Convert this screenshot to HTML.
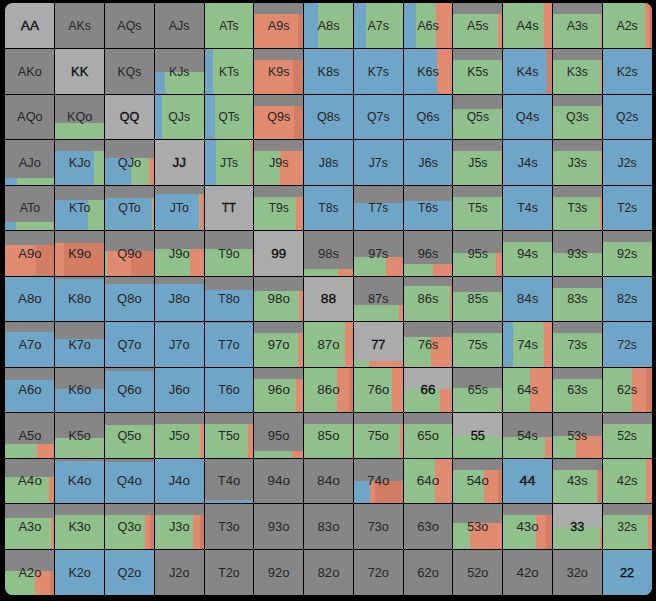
<!DOCTYPE html>
<html><head><meta charset="utf-8"><title>Range</title>
<style>
html,body{margin:0;padding:0;background:#000;}
body{width:656px;height:601px;overflow:hidden;}
svg{display:block;}
text{font-family:"Liberation Sans",sans-serif;font-size:12.3px;text-anchor:middle;fill:#262626;}
text.p{fill:#0c0c0c;stroke:#0c0c0c;stroke-width:0.3px;font-size:12px;}
</style></head><body>
<svg width="656" height="601" viewBox="0 0 656 601">
<defs><clipPath id="cp"><rect x="5" y="3" width="647" height="592" rx="7.5" ry="7.5"/></clipPath></defs>
<rect x="0" y="0" width="656" height="601" fill="#000"/>
<g clip-path="url(#cp)" shape-rendering="crispEdges">
<rect x="5" y="3" width="49.77" height="45.54" fill="#ababab"/>
<rect x="54.77" y="3" width="49.77" height="45.54" fill="#868686"/>
<rect x="104.54" y="3" width="49.77" height="45.54" fill="#868686"/>
<rect x="154.31" y="3" width="49.77" height="45.54" fill="#868686"/>
<rect x="204.08" y="3" width="49.77" height="45.54" fill="#868686"/>
<rect x="204.08" y="3" width="49.77" height="45.54" fill="#90c08b"/>
<rect x="253.85" y="3" width="49.77" height="45.54" fill="#868686"/>
<rect x="253.85" y="13.75" width="43.65" height="34.79" fill="#e08b70"/>
<rect x="297.5" y="13.75" width="6.12" height="34.79" fill="#d27c63"/>
<rect x="303.62" y="3" width="49.77" height="45.54" fill="#868686"/>
<rect x="303.62" y="3" width="14.38" height="45.54" fill="#6fa5c7"/>
<rect x="318" y="3" width="35.38" height="45.54" fill="#90c08b"/>
<rect x="353.38" y="3" width="49.77" height="45.54" fill="#868686"/>
<rect x="353.38" y="3" width="12.62" height="45.54" fill="#6fa5c7"/>
<rect x="366" y="3" width="37.15" height="45.54" fill="#90c08b"/>
<rect x="403.15" y="3" width="49.77" height="45.54" fill="#868686"/>
<rect x="403.15" y="3" width="12.85" height="45.54" fill="#6fa5c7"/>
<rect x="416" y="3" width="20.25" height="45.54" fill="#90c08b"/>
<rect x="436.25" y="3" width="16.67" height="45.54" fill="#e08b70"/>
<rect x="452.92" y="3" width="49.77" height="45.54" fill="#868686"/>
<rect x="452.92" y="13.75" width="45.08" height="34.79" fill="#90c08b"/>
<rect x="498" y="13.75" width="4.69" height="34.79" fill="#e08b70"/>
<rect x="502.69" y="3" width="49.77" height="45.54" fill="#868686"/>
<rect x="502.69" y="3" width="41.31" height="45.54" fill="#90c08b"/>
<rect x="544" y="3" width="8.46" height="45.54" fill="#e08b70"/>
<rect x="552.46" y="3" width="49.77" height="45.54" fill="#868686"/>
<rect x="552.46" y="13.75" width="48.54" height="34.79" fill="#90c08b"/>
<rect x="601" y="13.75" width="1.23" height="34.79" fill="#e08b70"/>
<rect x="602.23" y="3" width="49.77" height="45.54" fill="#868686"/>
<rect x="602.23" y="3" width="42.77" height="45.54" fill="#90c08b"/>
<rect x="645" y="3" width="4" height="45.54" fill="#e08b70"/>
<rect x="649" y="3" width="3" height="45.54" fill="#d27c63"/>
<rect x="5" y="48.54" width="49.77" height="45.54" fill="#868686"/>
<rect x="54.77" y="48.54" width="49.77" height="45.54" fill="#ababab"/>
<rect x="104.54" y="48.54" width="49.77" height="45.54" fill="#868686"/>
<rect x="154.31" y="48.54" width="49.77" height="45.54" fill="#868686"/>
<rect x="154.31" y="72" width="10.69" height="22.08" fill="#6fa5c7"/>
<rect x="165" y="72" width="39.08" height="22.08" fill="#90c08b"/>
<rect x="204.08" y="48.54" width="49.77" height="45.54" fill="#868686"/>
<rect x="204.08" y="48.54" width="8.92" height="45.54" fill="#6fa5c7"/>
<rect x="213" y="48.54" width="40.85" height="45.54" fill="#90c08b"/>
<rect x="253.85" y="48.54" width="49.77" height="45.54" fill="#868686"/>
<rect x="253.85" y="60" width="39.15" height="34.08" fill="#e08b70"/>
<rect x="293" y="60" width="10.62" height="34.08" fill="#d27c63"/>
<rect x="303.62" y="48.54" width="49.77" height="45.54" fill="#868686"/>
<rect x="303.62" y="48.54" width="49.77" height="45.54" fill="#6fa5c7"/>
<rect x="353.38" y="48.54" width="49.77" height="45.54" fill="#868686"/>
<rect x="353.38" y="48.54" width="49.77" height="45.54" fill="#6fa5c7"/>
<rect x="403.15" y="48.54" width="49.77" height="45.54" fill="#868686"/>
<rect x="403.15" y="48.54" width="33.85" height="45.54" fill="#6fa5c7"/>
<rect x="437" y="48.54" width="15.92" height="45.54" fill="#e08b70"/>
<rect x="452.92" y="48.54" width="49.77" height="45.54" fill="#868686"/>
<rect x="452.92" y="60" width="49.77" height="34.08" fill="#90c08b"/>
<rect x="502.69" y="48.54" width="49.77" height="45.54" fill="#868686"/>
<rect x="502.69" y="48.54" width="44.31" height="45.54" fill="#6fa5c7"/>
<rect x="547" y="48.54" width="5.46" height="45.54" fill="#d27c63"/>
<rect x="552.46" y="48.54" width="49.77" height="45.54" fill="#868686"/>
<rect x="552.46" y="60" width="48.54" height="34.08" fill="#90c08b"/>
<rect x="601" y="60" width="1.23" height="34.08" fill="#e08b70"/>
<rect x="602.23" y="48.54" width="49.77" height="45.54" fill="#868686"/>
<rect x="602.23" y="48.54" width="49.77" height="45.54" fill="#6fa5c7"/>
<rect x="5" y="94.08" width="49.77" height="45.54" fill="#868686"/>
<rect x="54.77" y="94.08" width="49.77" height="45.54" fill="#868686"/>
<rect x="54.77" y="122.5" width="49.77" height="17.12" fill="#90c08b"/>
<rect x="104.54" y="94.08" width="49.77" height="45.54" fill="#ababab"/>
<rect x="154.31" y="94.08" width="49.77" height="45.54" fill="#868686"/>
<rect x="154.31" y="94.08" width="7.44" height="45.54" fill="#6fa5c7"/>
<rect x="161.75" y="94.08" width="42.33" height="45.54" fill="#90c08b"/>
<rect x="204.08" y="94.08" width="49.77" height="45.54" fill="#868686"/>
<rect x="204.08" y="94.08" width="10.92" height="45.54" fill="#6fa5c7"/>
<rect x="215" y="94.08" width="38.85" height="45.54" fill="#90c08b"/>
<rect x="253.85" y="94.08" width="49.77" height="45.54" fill="#868686"/>
<rect x="253.85" y="105.5" width="39.9" height="34.12" fill="#e08b70"/>
<rect x="293.75" y="105.5" width="9.87" height="34.12" fill="#d27c63"/>
<rect x="303.62" y="94.08" width="49.77" height="45.54" fill="#868686"/>
<rect x="303.62" y="94.08" width="49.77" height="45.54" fill="#6fa5c7"/>
<rect x="353.38" y="94.08" width="49.77" height="45.54" fill="#868686"/>
<rect x="353.38" y="94.08" width="49.77" height="45.54" fill="#6fa5c7"/>
<rect x="403.15" y="94.08" width="49.77" height="45.54" fill="#868686"/>
<rect x="403.15" y="94.08" width="49.77" height="45.54" fill="#6fa5c7"/>
<rect x="452.92" y="94.08" width="49.77" height="45.54" fill="#868686"/>
<rect x="452.92" y="108.75" width="49.77" height="30.87" fill="#90c08b"/>
<rect x="502.69" y="94.08" width="49.77" height="45.54" fill="#868686"/>
<rect x="502.69" y="94.08" width="49.77" height="45.54" fill="#6fa5c7"/>
<rect x="552.46" y="94.08" width="49.77" height="45.54" fill="#868686"/>
<rect x="552.46" y="105.5" width="48.54" height="34.12" fill="#90c08b"/>
<rect x="601" y="105.5" width="1.23" height="34.12" fill="#e08b70"/>
<rect x="602.23" y="94.08" width="49.77" height="45.54" fill="#868686"/>
<rect x="602.23" y="94.08" width="49.77" height="45.54" fill="#6fa5c7"/>
<rect x="5" y="139.62" width="49.77" height="45.54" fill="#868686"/>
<rect x="5" y="178" width="12" height="7.15" fill="#6fa5c7"/>
<rect x="17" y="178" width="37.77" height="7.15" fill="#90c08b"/>
<rect x="54.77" y="139.62" width="49.77" height="45.54" fill="#868686"/>
<rect x="54.77" y="151" width="39.23" height="34.15" fill="#6fa5c7"/>
<rect x="94" y="151" width="10.54" height="34.15" fill="#90c08b"/>
<rect x="104.54" y="139.62" width="49.77" height="45.54" fill="#868686"/>
<rect x="104.54" y="158" width="26.21" height="27.15" fill="#6fa5c7"/>
<rect x="130.75" y="158" width="18.25" height="27.15" fill="#90c08b"/>
<rect x="149" y="158" width="5.31" height="27.15" fill="#e08b70"/>
<rect x="154.31" y="139.62" width="49.77" height="45.54" fill="#ababab"/>
<rect x="204.08" y="139.62" width="49.77" height="45.54" fill="#868686"/>
<rect x="204.08" y="139.62" width="11.92" height="45.54" fill="#6fa5c7"/>
<rect x="216" y="139.62" width="35.25" height="45.54" fill="#90c08b"/>
<rect x="251.25" y="139.62" width="2.6" height="45.54" fill="#e08b70"/>
<rect x="253.85" y="139.62" width="49.77" height="45.54" fill="#868686"/>
<rect x="253.85" y="151" width="26.15" height="34.15" fill="#90c08b"/>
<rect x="280" y="151" width="23.62" height="34.15" fill="#e08b70"/>
<rect x="303.62" y="139.62" width="49.77" height="45.54" fill="#868686"/>
<rect x="303.62" y="139.62" width="49.77" height="45.54" fill="#6fa5c7"/>
<rect x="353.38" y="139.62" width="49.77" height="45.54" fill="#868686"/>
<rect x="353.38" y="139.62" width="49.77" height="45.54" fill="#6fa5c7"/>
<rect x="403.15" y="139.62" width="49.77" height="45.54" fill="#868686"/>
<rect x="403.15" y="139.62" width="49.77" height="45.54" fill="#6fa5c7"/>
<rect x="452.92" y="139.62" width="49.77" height="45.54" fill="#868686"/>
<rect x="452.92" y="151" width="48.08" height="34.15" fill="#90c08b"/>
<rect x="501" y="151" width="1.69" height="34.15" fill="#e08b70"/>
<rect x="502.69" y="139.62" width="49.77" height="45.54" fill="#868686"/>
<rect x="502.69" y="139.62" width="49.77" height="45.54" fill="#6fa5c7"/>
<rect x="552.46" y="139.62" width="49.77" height="45.54" fill="#868686"/>
<rect x="552.46" y="151" width="48.74" height="34.15" fill="#90c08b"/>
<rect x="601.2" y="151" width="1.03" height="34.15" fill="#e08b70"/>
<rect x="602.23" y="139.62" width="49.77" height="45.54" fill="#868686"/>
<rect x="602.23" y="139.62" width="49.77" height="45.54" fill="#6fa5c7"/>
<rect x="5" y="185.15" width="49.77" height="45.54" fill="#868686"/>
<rect x="5" y="222.25" width="11" height="8.44" fill="#6fa5c7"/>
<rect x="16" y="222.25" width="36.5" height="8.44" fill="#90c08b"/>
<rect x="52.5" y="222.25" width="2.27" height="8.44" fill="#e08b70"/>
<rect x="54.77" y="185.15" width="49.77" height="45.54" fill="#868686"/>
<rect x="54.77" y="200" width="33.23" height="30.69" fill="#6fa5c7"/>
<rect x="88" y="200" width="16.54" height="30.69" fill="#90c08b"/>
<rect x="104.54" y="185.15" width="49.77" height="45.54" fill="#868686"/>
<rect x="104.54" y="198" width="47.21" height="32.69" fill="#6fa5c7"/>
<rect x="151.75" y="198" width="1" height="32.69" fill="#90c08b"/>
<rect x="152.75" y="198" width="1.56" height="32.69" fill="#e08b70"/>
<rect x="154.31" y="185.15" width="49.77" height="45.54" fill="#868686"/>
<rect x="154.31" y="193.5" width="44.94" height="37.19" fill="#6fa5c7"/>
<rect x="199.25" y="193.5" width="1" height="37.19" fill="#90c08b"/>
<rect x="200.25" y="193.5" width="3.83" height="37.19" fill="#e08b70"/>
<rect x="204.08" y="185.15" width="49.77" height="45.54" fill="#ababab"/>
<rect x="253.85" y="185.15" width="49.77" height="45.54" fill="#868686"/>
<rect x="253.85" y="196.75" width="42.15" height="33.94" fill="#90c08b"/>
<rect x="296" y="196.75" width="7.62" height="33.94" fill="#e08b70"/>
<rect x="303.62" y="185.15" width="49.77" height="45.54" fill="#868686"/>
<rect x="303.62" y="185.15" width="49.77" height="45.54" fill="#6fa5c7"/>
<rect x="353.38" y="185.15" width="49.77" height="45.54" fill="#868686"/>
<rect x="353.38" y="202.5" width="49.77" height="28.19" fill="#6fa5c7"/>
<rect x="403.15" y="185.15" width="49.77" height="45.54" fill="#868686"/>
<rect x="403.15" y="200.5" width="49.77" height="30.19" fill="#6fa5c7"/>
<rect x="452.92" y="185.15" width="49.77" height="45.54" fill="#868686"/>
<rect x="452.92" y="196.75" width="49.77" height="33.94" fill="#90c08b"/>
<rect x="502.69" y="185.15" width="49.77" height="45.54" fill="#868686"/>
<rect x="502.69" y="185.15" width="49.77" height="45.54" fill="#6fa5c7"/>
<rect x="552.46" y="185.15" width="49.77" height="45.54" fill="#868686"/>
<rect x="552.46" y="196.75" width="47.54" height="33.94" fill="#90c08b"/>
<rect x="600" y="196.75" width="2.23" height="33.94" fill="#e08b70"/>
<rect x="602.23" y="185.15" width="49.77" height="45.54" fill="#868686"/>
<rect x="602.23" y="185.15" width="49.77" height="45.54" fill="#6fa5c7"/>
<rect x="5" y="230.69" width="49.77" height="45.54" fill="#868686"/>
<rect x="5" y="244.75" width="31.25" height="31.48" fill="#e08b70"/>
<rect x="36.25" y="244.75" width="18.52" height="31.48" fill="#d27c63"/>
<rect x="54.77" y="230.69" width="49.77" height="45.54" fill="#868686"/>
<rect x="54.77" y="243" width="8.98" height="33.23" fill="#e08b70"/>
<rect x="63.75" y="243" width="40.79" height="33.23" fill="#d27c63"/>
<rect x="104.54" y="230.69" width="49.77" height="45.54" fill="#868686"/>
<rect x="104.54" y="251" width="2.21" height="25.23" fill="#90c08b"/>
<rect x="106.75" y="251" width="24" height="25.23" fill="#e08b70"/>
<rect x="130.75" y="251" width="23.56" height="25.23" fill="#d27c63"/>
<rect x="154.31" y="230.69" width="49.77" height="45.54" fill="#868686"/>
<rect x="154.31" y="249" width="35.69" height="27.23" fill="#90c08b"/>
<rect x="190" y="249" width="14.08" height="27.23" fill="#e08b70"/>
<rect x="204.08" y="230.69" width="49.77" height="45.54" fill="#868686"/>
<rect x="204.08" y="248.5" width="47.67" height="27.73" fill="#90c08b"/>
<rect x="251.75" y="248.5" width="2.1" height="27.73" fill="#e08b70"/>
<rect x="253.85" y="230.69" width="49.77" height="45.54" fill="#ababab"/>
<rect x="303.62" y="230.69" width="49.77" height="45.54" fill="#868686"/>
<rect x="303.62" y="269" width="34.38" height="7.23" fill="#90c08b"/>
<rect x="338" y="269" width="15.38" height="7.23" fill="#e08b70"/>
<rect x="353.38" y="230.69" width="49.77" height="45.54" fill="#868686"/>
<rect x="353.38" y="257.25" width="32.87" height="18.98" fill="#90c08b"/>
<rect x="386.25" y="257.25" width="16.9" height="18.98" fill="#e08b70"/>
<rect x="403.15" y="230.69" width="49.77" height="45.54" fill="#868686"/>
<rect x="403.15" y="264.25" width="29.85" height="11.98" fill="#90c08b"/>
<rect x="433" y="264.25" width="19.92" height="11.98" fill="#e08b70"/>
<rect x="452.92" y="230.69" width="49.77" height="45.54" fill="#868686"/>
<rect x="452.92" y="253" width="43.08" height="23.23" fill="#90c08b"/>
<rect x="496" y="253" width="6.69" height="23.23" fill="#e08b70"/>
<rect x="502.69" y="230.69" width="49.77" height="45.54" fill="#868686"/>
<rect x="502.69" y="242.25" width="49.77" height="33.98" fill="#90c08b"/>
<rect x="552.46" y="230.69" width="49.77" height="45.54" fill="#868686"/>
<rect x="552.46" y="253" width="49.77" height="23.23" fill="#90c08b"/>
<rect x="602.23" y="230.69" width="49.77" height="45.54" fill="#868686"/>
<rect x="602.23" y="242.25" width="49.77" height="33.98" fill="#90c08b"/>
<rect x="5" y="276.23" width="49.77" height="45.54" fill="#868686"/>
<rect x="5" y="276.23" width="49.77" height="45.54" fill="#6fa5c7"/>
<rect x="54.77" y="276.23" width="49.77" height="45.54" fill="#868686"/>
<rect x="54.77" y="278.75" width="49.77" height="43.02" fill="#6fa5c7"/>
<rect x="104.54" y="276.23" width="49.77" height="45.54" fill="#868686"/>
<rect x="104.54" y="283.75" width="49.77" height="38.02" fill="#6fa5c7"/>
<rect x="154.31" y="276.23" width="49.77" height="45.54" fill="#868686"/>
<rect x="154.31" y="283.75" width="49.77" height="38.02" fill="#6fa5c7"/>
<rect x="204.08" y="276.23" width="49.77" height="45.54" fill="#868686"/>
<rect x="204.08" y="290" width="49.77" height="31.77" fill="#6fa5c7"/>
<rect x="253.85" y="276.23" width="49.77" height="45.54" fill="#868686"/>
<rect x="253.85" y="290.75" width="45.4" height="31.02" fill="#90c08b"/>
<rect x="299.25" y="290.75" width="4.37" height="31.02" fill="#e08b70"/>
<rect x="303.62" y="276.23" width="49.77" height="45.54" fill="#ababab"/>
<rect x="353.38" y="276.23" width="49.77" height="45.54" fill="#868686"/>
<rect x="353.38" y="305" width="45.62" height="16.77" fill="#90c08b"/>
<rect x="399" y="305" width="4.15" height="16.77" fill="#e08b70"/>
<rect x="403.15" y="276.23" width="49.77" height="45.54" fill="#868686"/>
<rect x="403.15" y="286.25" width="47.1" height="35.52" fill="#90c08b"/>
<rect x="450.25" y="286.25" width="2.67" height="35.52" fill="#e08b70"/>
<rect x="452.92" y="276.23" width="49.77" height="45.54" fill="#868686"/>
<rect x="452.92" y="292" width="49.77" height="29.77" fill="#90c08b"/>
<rect x="502.69" y="276.23" width="49.77" height="45.54" fill="#868686"/>
<rect x="502.69" y="276.23" width="49.77" height="45.54" fill="#6fa5c7"/>
<rect x="552.46" y="276.23" width="49.77" height="45.54" fill="#868686"/>
<rect x="552.46" y="287.75" width="49.77" height="34.02" fill="#90c08b"/>
<rect x="602.23" y="276.23" width="49.77" height="45.54" fill="#868686"/>
<rect x="602.23" y="276.23" width="49.77" height="45.54" fill="#6fa5c7"/>
<rect x="5" y="321.77" width="49.77" height="45.54" fill="#868686"/>
<rect x="5" y="332" width="49.77" height="35.31" fill="#6fa5c7"/>
<rect x="54.77" y="321.77" width="49.77" height="45.54" fill="#868686"/>
<rect x="54.77" y="339" width="49.77" height="28.31" fill="#6fa5c7"/>
<rect x="104.54" y="321.77" width="49.77" height="45.54" fill="#868686"/>
<rect x="104.54" y="321.77" width="49.77" height="45.54" fill="#6fa5c7"/>
<rect x="154.31" y="321.77" width="49.77" height="45.54" fill="#868686"/>
<rect x="154.31" y="323.3" width="49.77" height="44.01" fill="#6fa5c7"/>
<rect x="204.08" y="321.77" width="49.77" height="45.54" fill="#868686"/>
<rect x="204.08" y="323.3" width="49.77" height="44.01" fill="#6fa5c7"/>
<rect x="253.85" y="321.77" width="49.77" height="45.54" fill="#868686"/>
<rect x="253.85" y="332.75" width="44.15" height="34.56" fill="#90c08b"/>
<rect x="298" y="332.75" width="5.62" height="34.56" fill="#e08b70"/>
<rect x="303.62" y="321.77" width="49.77" height="45.54" fill="#868686"/>
<rect x="303.62" y="321.77" width="41.38" height="45.54" fill="#90c08b"/>
<rect x="345" y="321.77" width="8.38" height="45.54" fill="#e08b70"/>
<rect x="353.38" y="321.77" width="49.77" height="45.54" fill="#ababab"/>
<rect x="353.38" y="360.75" width="15.87" height="6.56" fill="#90c08b"/>
<rect x="369.25" y="360.75" width="33.9" height="6.56" fill="#e08b70"/>
<rect x="403.15" y="321.77" width="49.77" height="45.54" fill="#868686"/>
<rect x="403.15" y="336.5" width="27.85" height="30.81" fill="#90c08b"/>
<rect x="431" y="336.5" width="21.92" height="30.81" fill="#e08b70"/>
<rect x="452.92" y="321.77" width="49.77" height="45.54" fill="#868686"/>
<rect x="452.92" y="332.75" width="49.77" height="34.56" fill="#90c08b"/>
<rect x="502.69" y="321.77" width="49.77" height="45.54" fill="#868686"/>
<rect x="502.69" y="321.77" width="10.31" height="45.54" fill="#6fa5c7"/>
<rect x="513" y="321.77" width="31" height="45.54" fill="#90c08b"/>
<rect x="544" y="321.77" width="8.46" height="45.54" fill="#e08b70"/>
<rect x="552.46" y="321.77" width="49.77" height="45.54" fill="#868686"/>
<rect x="552.46" y="332.75" width="49.77" height="34.56" fill="#90c08b"/>
<rect x="602.23" y="321.77" width="49.77" height="45.54" fill="#868686"/>
<rect x="602.23" y="321.77" width="49.77" height="45.54" fill="#6fa5c7"/>
<rect x="5" y="367.31" width="49.77" height="45.54" fill="#868686"/>
<rect x="5" y="379.5" width="49.77" height="33.35" fill="#6fa5c7"/>
<rect x="54.77" y="367.31" width="49.77" height="45.54" fill="#868686"/>
<rect x="54.77" y="388.75" width="49.77" height="24.1" fill="#6fa5c7"/>
<rect x="104.54" y="367.31" width="49.77" height="45.54" fill="#868686"/>
<rect x="104.54" y="370.75" width="49.77" height="42.1" fill="#6fa5c7"/>
<rect x="154.31" y="367.31" width="49.77" height="45.54" fill="#868686"/>
<rect x="154.31" y="367.31" width="49.77" height="45.54" fill="#6fa5c7"/>
<rect x="204.08" y="367.31" width="49.77" height="45.54" fill="#868686"/>
<rect x="204.08" y="367.31" width="49.77" height="45.54" fill="#6fa5c7"/>
<rect x="253.85" y="367.31" width="49.77" height="45.54" fill="#868686"/>
<rect x="253.85" y="378.75" width="42.4" height="34.1" fill="#90c08b"/>
<rect x="296.25" y="378.75" width="7.37" height="34.1" fill="#e08b70"/>
<rect x="303.62" y="367.31" width="49.77" height="45.54" fill="#868686"/>
<rect x="303.62" y="367.31" width="33.38" height="45.54" fill="#90c08b"/>
<rect x="337" y="367.31" width="12.25" height="45.54" fill="#e08b70"/>
<rect x="349.25" y="367.31" width="4.13" height="45.54" fill="#d27c63"/>
<rect x="353.38" y="367.31" width="49.77" height="45.54" fill="#868686"/>
<rect x="353.38" y="367.31" width="38.62" height="45.54" fill="#90c08b"/>
<rect x="392" y="367.31" width="11.15" height="45.54" fill="#e08b70"/>
<rect x="403.15" y="367.31" width="49.77" height="45.54" fill="#ababab"/>
<rect x="403.15" y="388.75" width="36.85" height="24.1" fill="#90c08b"/>
<rect x="440" y="388.75" width="12.92" height="24.1" fill="#e08b70"/>
<rect x="452.92" y="367.31" width="49.77" height="45.54" fill="#868686"/>
<rect x="452.92" y="387.75" width="48.08" height="25.1" fill="#90c08b"/>
<rect x="501" y="387.75" width="1.69" height="25.1" fill="#e08b70"/>
<rect x="502.69" y="367.31" width="49.77" height="45.54" fill="#868686"/>
<rect x="502.69" y="367.31" width="27.31" height="45.54" fill="#90c08b"/>
<rect x="530" y="367.31" width="22.46" height="45.54" fill="#e08b70"/>
<rect x="552.46" y="367.31" width="49.77" height="45.54" fill="#868686"/>
<rect x="552.46" y="378.75" width="49.77" height="34.1" fill="#90c08b"/>
<rect x="602.23" y="367.31" width="49.77" height="45.54" fill="#868686"/>
<rect x="602.23" y="367.31" width="29.77" height="45.54" fill="#90c08b"/>
<rect x="632" y="367.31" width="13.75" height="45.54" fill="#e08b70"/>
<rect x="645.75" y="367.31" width="6.25" height="45.54" fill="#d27c63"/>
<rect x="5" y="412.85" width="49.77" height="45.54" fill="#868686"/>
<rect x="5" y="444" width="32" height="14.38" fill="#90c08b"/>
<rect x="37" y="444" width="17.77" height="14.38" fill="#e08b70"/>
<rect x="54.77" y="412.85" width="49.77" height="45.54" fill="#868686"/>
<rect x="54.77" y="438.25" width="49.77" height="20.13" fill="#90c08b"/>
<rect x="104.54" y="412.85" width="49.77" height="45.54" fill="#868686"/>
<rect x="104.54" y="425.25" width="48.21" height="33.13" fill="#90c08b"/>
<rect x="152.75" y="425.25" width="1.56" height="33.13" fill="#e08b70"/>
<rect x="154.31" y="412.85" width="49.77" height="45.54" fill="#868686"/>
<rect x="154.31" y="424" width="45.69" height="34.38" fill="#90c08b"/>
<rect x="200" y="424" width="4.08" height="34.38" fill="#e08b70"/>
<rect x="204.08" y="412.85" width="49.77" height="45.54" fill="#868686"/>
<rect x="204.08" y="424" width="43.92" height="34.38" fill="#90c08b"/>
<rect x="248" y="424" width="5.85" height="34.38" fill="#e08b70"/>
<rect x="253.85" y="412.85" width="49.77" height="45.54" fill="#868686"/>
<rect x="253.85" y="451" width="38.15" height="7.38" fill="#90c08b"/>
<rect x="292" y="451" width="11.62" height="7.38" fill="#e08b70"/>
<rect x="303.62" y="412.85" width="49.77" height="45.54" fill="#868686"/>
<rect x="303.62" y="424" width="48.38" height="34.38" fill="#90c08b"/>
<rect x="352" y="424" width="1.38" height="34.38" fill="#e08b70"/>
<rect x="353.38" y="412.85" width="49.77" height="45.54" fill="#868686"/>
<rect x="353.38" y="424" width="46.62" height="34.38" fill="#90c08b"/>
<rect x="400" y="424" width="3.15" height="34.38" fill="#e08b70"/>
<rect x="403.15" y="412.85" width="49.77" height="45.54" fill="#868686"/>
<rect x="403.15" y="424" width="49.77" height="34.38" fill="#90c08b"/>
<rect x="452.92" y="412.85" width="49.77" height="45.54" fill="#ababab"/>
<rect x="452.92" y="436" width="49.77" height="22.38" fill="#90c08b"/>
<rect x="502.69" y="412.85" width="49.77" height="45.54" fill="#868686"/>
<rect x="502.69" y="437" width="42.56" height="21.38" fill="#90c08b"/>
<rect x="545.25" y="437" width="7.21" height="21.38" fill="#e08b70"/>
<rect x="552.46" y="412.85" width="49.77" height="45.54" fill="#868686"/>
<rect x="552.46" y="436" width="23.54" height="22.38" fill="#90c08b"/>
<rect x="576" y="436" width="26.23" height="22.38" fill="#e08b70"/>
<rect x="602.23" y="412.85" width="49.77" height="45.54" fill="#868686"/>
<rect x="602.23" y="424" width="49.77" height="34.38" fill="#90c08b"/>
<rect x="5" y="458.38" width="49.77" height="45.54" fill="#868686"/>
<rect x="5" y="477" width="44" height="26.92" fill="#90c08b"/>
<rect x="49" y="477" width="5.77" height="26.92" fill="#e08b70"/>
<rect x="54.77" y="458.38" width="49.77" height="45.54" fill="#868686"/>
<rect x="54.77" y="460.5" width="49.77" height="43.42" fill="#6fa5c7"/>
<rect x="104.54" y="458.38" width="49.77" height="45.54" fill="#868686"/>
<rect x="104.54" y="462" width="49.77" height="41.92" fill="#6fa5c7"/>
<rect x="154.31" y="458.38" width="49.77" height="45.54" fill="#868686"/>
<rect x="154.31" y="458.38" width="49.77" height="45.54" fill="#6fa5c7"/>
<rect x="204.08" y="458.38" width="49.77" height="45.54" fill="#868686"/>
<rect x="204.08" y="500.25" width="49.77" height="3.67" fill="#6fa5c7"/>
<rect x="253.85" y="458.38" width="49.77" height="45.54" fill="#868686"/>
<rect x="303.62" y="458.38" width="49.77" height="45.54" fill="#868686"/>
<rect x="353.38" y="458.38" width="49.77" height="45.54" fill="#868686"/>
<rect x="353.38" y="481" width="16.62" height="22.92" fill="#6fa5c7"/>
<rect x="370" y="481" width="5" height="22.92" fill="#e08b70"/>
<rect x="375" y="481" width="28.15" height="22.92" fill="#d27c63"/>
<rect x="403.15" y="458.38" width="49.77" height="45.54" fill="#868686"/>
<rect x="403.15" y="458.38" width="31.85" height="45.54" fill="#90c08b"/>
<rect x="435" y="458.38" width="17.92" height="45.54" fill="#e08b70"/>
<rect x="452.92" y="458.38" width="49.77" height="45.54" fill="#868686"/>
<rect x="452.92" y="469.75" width="31.08" height="34.17" fill="#90c08b"/>
<rect x="484" y="469.75" width="14" height="34.17" fill="#e08b70"/>
<rect x="498" y="469.75" width="4.69" height="34.17" fill="#d27c63"/>
<rect x="502.69" y="458.38" width="49.77" height="45.54" fill="#868686"/>
<rect x="502.69" y="458.38" width="49.77" height="45.54" fill="#6fa5c7"/>
<rect x="552.46" y="458.38" width="49.77" height="45.54" fill="#868686"/>
<rect x="552.46" y="469.75" width="44.54" height="34.17" fill="#90c08b"/>
<rect x="597" y="469.75" width="0.7" height="34.17" fill="#e08b70"/>
<rect x="597.7" y="469.75" width="4.53" height="34.17" fill="#d27c63"/>
<rect x="602.23" y="458.38" width="49.77" height="45.54" fill="#868686"/>
<rect x="602.23" y="458.38" width="44.02" height="45.54" fill="#90c08b"/>
<rect x="646.25" y="458.38" width="5.75" height="45.54" fill="#e08b70"/>
<rect x="5" y="503.92" width="49.77" height="45.54" fill="#868686"/>
<rect x="5" y="517.75" width="46" height="31.71" fill="#90c08b"/>
<rect x="51" y="517.75" width="3.77" height="31.71" fill="#e08b70"/>
<rect x="54.77" y="503.92" width="49.77" height="45.54" fill="#868686"/>
<rect x="54.77" y="515.25" width="49.77" height="34.21" fill="#90c08b"/>
<rect x="104.54" y="503.92" width="49.77" height="45.54" fill="#868686"/>
<rect x="104.54" y="515.25" width="40.46" height="34.21" fill="#90c08b"/>
<rect x="145" y="515.25" width="5" height="34.21" fill="#e08b70"/>
<rect x="150" y="515.25" width="4.31" height="34.21" fill="#d27c63"/>
<rect x="154.31" y="503.92" width="49.77" height="45.54" fill="#868686"/>
<rect x="154.31" y="515.25" width="38.69" height="34.21" fill="#90c08b"/>
<rect x="193" y="515.25" width="7" height="34.21" fill="#e08b70"/>
<rect x="200" y="515.25" width="4.08" height="34.21" fill="#d27c63"/>
<rect x="204.08" y="503.92" width="49.77" height="45.54" fill="#868686"/>
<rect x="253.85" y="503.92" width="49.77" height="45.54" fill="#868686"/>
<rect x="303.62" y="503.92" width="49.77" height="45.54" fill="#868686"/>
<rect x="353.38" y="503.92" width="49.77" height="45.54" fill="#868686"/>
<rect x="403.15" y="503.92" width="49.77" height="45.54" fill="#868686"/>
<rect x="452.92" y="503.92" width="49.77" height="45.54" fill="#868686"/>
<rect x="452.92" y="522.75" width="17.08" height="26.71" fill="#90c08b"/>
<rect x="470" y="522.75" width="32.69" height="26.71" fill="#e08b70"/>
<rect x="502.69" y="503.92" width="49.77" height="45.54" fill="#868686"/>
<rect x="502.69" y="515.25" width="33.31" height="34.21" fill="#90c08b"/>
<rect x="536" y="515.25" width="10" height="34.21" fill="#e08b70"/>
<rect x="546" y="515.25" width="6.46" height="34.21" fill="#d27c63"/>
<rect x="552.46" y="503.92" width="49.77" height="45.54" fill="#ababab"/>
<rect x="552.46" y="527" width="47.79" height="22.46" fill="#90c08b"/>
<rect x="600.25" y="527" width="1.98" height="22.46" fill="#e08b70"/>
<rect x="602.23" y="503.92" width="49.77" height="45.54" fill="#868686"/>
<rect x="602.23" y="515.25" width="46.02" height="34.21" fill="#90c08b"/>
<rect x="648.25" y="515.25" width="3.75" height="34.21" fill="#e08b70"/>
<rect x="5" y="549.46" width="49.77" height="45.54" fill="#868686"/>
<rect x="5" y="571" width="30" height="24" fill="#90c08b"/>
<rect x="35" y="571" width="15" height="24" fill="#e08b70"/>
<rect x="50" y="571" width="4.77" height="24" fill="#d27c63"/>
<rect x="54.77" y="549.46" width="49.77" height="45.54" fill="#868686"/>
<rect x="54.77" y="549.46" width="49.77" height="45.54" fill="#6fa5c7"/>
<rect x="104.54" y="549.46" width="49.77" height="45.54" fill="#868686"/>
<rect x="104.54" y="549.46" width="49.77" height="45.54" fill="#6fa5c7"/>
<rect x="154.31" y="549.46" width="49.77" height="45.54" fill="#868686"/>
<rect x="204.08" y="549.46" width="49.77" height="45.54" fill="#868686"/>
<rect x="253.85" y="549.46" width="49.77" height="45.54" fill="#868686"/>
<rect x="303.62" y="549.46" width="49.77" height="45.54" fill="#868686"/>
<rect x="353.38" y="549.46" width="49.77" height="45.54" fill="#868686"/>
<rect x="403.15" y="549.46" width="49.77" height="45.54" fill="#868686"/>
<rect x="452.92" y="549.46" width="49.77" height="45.54" fill="#868686"/>
<rect x="502.69" y="549.46" width="49.77" height="45.54" fill="#868686"/>
<rect x="552.46" y="549.46" width="49.77" height="45.54" fill="#868686"/>
<rect x="602.23" y="549.46" width="49.77" height="45.54" fill="#868686"/>
<rect x="602.23" y="549.46" width="49.77" height="45.54" fill="#6fa5c7"/>
<g fill="#000">
<rect x="54.27" y="0" width="1" height="601"/>
<rect x="0" y="48.04" width="656" height="1"/>
<rect x="104.04" y="0" width="1" height="601"/>
<rect x="0" y="93.58" width="656" height="1"/>
<rect x="153.81" y="0" width="1" height="601"/>
<rect x="0" y="139.12" width="656" height="1"/>
<rect x="203.58" y="0" width="1" height="601"/>
<rect x="0" y="184.65" width="656" height="1"/>
<rect x="253.35" y="0" width="1" height="601"/>
<rect x="0" y="230.19" width="656" height="1"/>
<rect x="303.12" y="0" width="1" height="601"/>
<rect x="0" y="275.73" width="656" height="1"/>
<rect x="352.88" y="0" width="1" height="601"/>
<rect x="0" y="321.27" width="656" height="1"/>
<rect x="402.65" y="0" width="1" height="601"/>
<rect x="0" y="366.81" width="656" height="1"/>
<rect x="452.42" y="0" width="1" height="601"/>
<rect x="0" y="412.35" width="656" height="1"/>
<rect x="502.19" y="0" width="1" height="601"/>
<rect x="0" y="457.88" width="656" height="1"/>
<rect x="551.96" y="0" width="1" height="601"/>
<rect x="0" y="503.42" width="656" height="1"/>
<rect x="601.73" y="0" width="1" height="601"/>
<rect x="0" y="548.96" width="656" height="1"/>
</g>
</g>
<text transform="translate(29.88,30) scale(1.13,1)" class="p">AA</text>
<text transform="translate(79.65,30) scale(1.01,1)">AKs</text>
<text transform="translate(129.42,30) scale(1.01,1)">AQs</text>
<text transform="translate(179.19,30) scale(1.02,1)">AJs</text>
<text transform="translate(228.96,30) scale(0.98,1)">ATs</text>
<text transform="translate(278.73,30) scale(1.03,1)">A9s</text>
<text transform="translate(328.5,30) scale(1.05,1)">A8s</text>
<text transform="translate(378.27,30) scale(1.01,1)">A7s</text>
<text transform="translate(428.04,30) scale(1.03,1)">A6s</text>
<text transform="translate(477.81,30) scale(1.01,1)">A5s</text>
<text transform="translate(527.58,30) scale(1.06,1)">A4s</text>
<text transform="translate(577.35,30) scale(1.01,1)">A3s</text>
<text transform="translate(627.12,30) scale(1.01,1)">A2s</text>
<text transform="translate(29.88,76) scale(1.04,1)">AKo</text>
<text transform="translate(79.65,76) scale(1.07,1)" class="p">KK</text>
<text transform="translate(129.42,76) scale(0.99,1)">KQs</text>
<text transform="translate(179.19,76) scale(1,1)">KJs</text>
<text transform="translate(228.96,76) scale(0.96,1)">KTs</text>
<text transform="translate(278.73,76) scale(1.02,1)">K9s</text>
<text transform="translate(328.5,76) scale(1.03,1)">K8s</text>
<text transform="translate(378.27,76) scale(0.99,1)">K7s</text>
<text transform="translate(428.04,76) scale(1.02,1)">K6s</text>
<text transform="translate(477.81,76) scale(0.99,1)">K5s</text>
<text transform="translate(527.58,76) scale(1.04,1)">K4s</text>
<text transform="translate(577.35,76) scale(0.99,1)">K3s</text>
<text transform="translate(627.12,76) scale(0.99,1)">K2s</text>
<text transform="translate(29.88,121) scale(1.04,1)">AQo</text>
<text transform="translate(79.65,121) scale(1.03,1)">KQo</text>
<text transform="translate(129.42,121) scale(1.04,1)" class="p">QQ</text>
<text transform="translate(179.19,121) scale(1,1)">QJs</text>
<text transform="translate(228.96,121) scale(0.96,1)">QTs</text>
<text transform="translate(278.73,121) scale(1.02,1)">Q9s</text>
<text transform="translate(328.5,121) scale(1.03,1)">Q8s</text>
<text transform="translate(378.27,121) scale(1,1)">Q7s</text>
<text transform="translate(428.04,121) scale(1.02,1)">Q6s</text>
<text transform="translate(477.81,121) scale(0.99,1)">Q5s</text>
<text transform="translate(527.58,121) scale(1.04,1)">Q4s</text>
<text transform="translate(577.35,121) scale(1,1)">Q3s</text>
<text transform="translate(627.12,121) scale(0.99,1)">Q2s</text>
<text transform="translate(29.88,167) scale(1.05,1)">AJo</text>
<text transform="translate(79.65,167) scale(1.04,1)">KJo</text>
<text transform="translate(129.42,167) scale(1.04,1)">QJo</text>
<text transform="translate(179.19,167) scale(1.12,1)" class="p">JJ</text>
<text transform="translate(228.96,167) scale(0.96,1)">JTs</text>
<text transform="translate(278.73,167) scale(1.03,1)">J9s</text>
<text transform="translate(328.5,167) scale(1.04,1)">J8s</text>
<text transform="translate(378.27,167) scale(1,1)">J7s</text>
<text transform="translate(428.04,167) scale(1.03,1)">J6s</text>
<text transform="translate(477.81,167) scale(1,1)">J5s</text>
<text transform="translate(527.58,167) scale(1.06,1)">J4s</text>
<text transform="translate(577.35,167) scale(1,1)">J3s</text>
<text transform="translate(627.12,167) scale(1,1)">J2s</text>
<text transform="translate(29.88,212) scale(1.01,1)">ATo</text>
<text transform="translate(79.65,212) scale(1,1)">KTo</text>
<text transform="translate(129.42,212) scale(1,1)">QTo</text>
<text transform="translate(179.19,212) scale(1,1)">JTo</text>
<text transform="translate(228.96,212) scale(0.95,1)" class="p">TT</text>
<text transform="translate(278.73,212) scale(0.98,1)">T9s</text>
<text transform="translate(328.5,212) scale(0.99,1)">T8s</text>
<text transform="translate(378.27,212) scale(0.96,1)">T7s</text>
<text transform="translate(428.04,212) scale(0.98,1)">T6s</text>
<text transform="translate(477.81,212) scale(0.96,1)">T5s</text>
<text transform="translate(527.58,212) scale(1.01,1)">T4s</text>
<text transform="translate(577.35,212) scale(0.96,1)">T3s</text>
<text transform="translate(627.12,212) scale(0.96,1)">T2s</text>
<text transform="translate(29.88,258) scale(1.07,1)">A9o</text>
<text transform="translate(79.65,258) scale(1.05,1)">K9o</text>
<text transform="translate(129.42,258) scale(1.05,1)">Q9o</text>
<text transform="translate(179.19,258) scale(1.06,1)">J9o</text>
<text transform="translate(228.96,258) scale(1.02,1)">T9o</text>
<text transform="translate(278.73,258) scale(1.12,1)" class="p">99</text>
<text transform="translate(328.5,258) scale(1.06,1)">98s</text>
<text transform="translate(378.27,258) scale(1.02,1)">97s</text>
<text transform="translate(428.04,258) scale(1.04,1)">96s</text>
<text transform="translate(477.81,258) scale(1.02,1)">95s</text>
<text transform="translate(527.58,258) scale(1.07,1)">94s</text>
<text transform="translate(577.35,258) scale(1.02,1)">93s</text>
<text transform="translate(627.12,258) scale(1.02,1)">92s</text>
<text transform="translate(29.88,303) scale(1.08,1)">A8o</text>
<text transform="translate(79.65,303) scale(1.06,1)">K8o</text>
<text transform="translate(129.42,303) scale(1.06,1)">Q8o</text>
<text transform="translate(179.19,303) scale(1.08,1)">J8o</text>
<text transform="translate(228.96,303) scale(1.03,1)">T8o</text>
<text transform="translate(278.73,303) scale(1.09,1)">98o</text>
<text transform="translate(328.5,303) scale(1.15,1)" class="p">88</text>
<text transform="translate(378.27,303) scale(1.03,1)">87s</text>
<text transform="translate(428.04,303) scale(1.06,1)">86s</text>
<text transform="translate(477.81,303) scale(1.03,1)">85s</text>
<text transform="translate(527.58,303) scale(1.09,1)">84s</text>
<text transform="translate(577.35,303) scale(1.03,1)">83s</text>
<text transform="translate(627.12,303) scale(1.03,1)">82s</text>
<text transform="translate(29.88,349) scale(1.05,1)">A7o</text>
<text transform="translate(79.65,349) scale(1.03,1)">K7o</text>
<text transform="translate(129.42,349) scale(1.03,1)">Q7o</text>
<text transform="translate(179.19,349) scale(1.04,1)">J7o</text>
<text transform="translate(228.96,349) scale(1,1)">T7o</text>
<text transform="translate(278.73,349) scale(1.06,1)">97o</text>
<text transform="translate(328.5,349) scale(1.07,1)">87o</text>
<text transform="translate(378.27,349) scale(1.05,1)" class="p">77</text>
<text transform="translate(428.04,349) scale(1.02,1)">76s</text>
<text transform="translate(477.81,349) scale(0.99,1)">75s</text>
<text transform="translate(527.58,349) scale(1.05,1)">74s</text>
<text transform="translate(577.35,349) scale(1,1)">73s</text>
<text transform="translate(627.12,349) scale(0.99,1)">72s</text>
<text transform="translate(29.88,394) scale(1.07,1)">A6o</text>
<text transform="translate(79.65,394) scale(1.05,1)">K6o</text>
<text transform="translate(129.42,394) scale(1.05,1)">Q6o</text>
<text transform="translate(179.19,394) scale(1.06,1)">J6o</text>
<text transform="translate(228.96,394) scale(1.02,1)">T6o</text>
<text transform="translate(278.73,394) scale(1.08,1)">96o</text>
<text transform="translate(328.5,394) scale(1.09,1)">86o</text>
<text transform="translate(378.27,394) scale(1.06,1)">76o</text>
<text transform="translate(428.04,394) scale(1.12,1)" class="p">66</text>
<text transform="translate(477.81,394) scale(1.02,1)">65s</text>
<text transform="translate(527.58,394) scale(1.07,1)">64s</text>
<text transform="translate(577.35,394) scale(1.02,1)">63s</text>
<text transform="translate(627.12,394) scale(1.02,1)">62s</text>
<text transform="translate(29.88,440) scale(1.05,1)">A5o</text>
<text transform="translate(79.65,440) scale(1.03,1)">K5o</text>
<text transform="translate(129.42,440) scale(1.03,1)">Q5o</text>
<text transform="translate(179.19,440) scale(1.04,1)">J5o</text>
<text transform="translate(228.96,440) scale(1,1)">T5o</text>
<text transform="translate(278.73,440) scale(1.06,1)">95o</text>
<text transform="translate(328.5,440) scale(1.07,1)">85o</text>
<text transform="translate(378.27,440) scale(1.03,1)">75o</text>
<text transform="translate(428.04,440) scale(1.06,1)">65o</text>
<text transform="translate(477.81,440) scale(1.06,1)" class="p">55</text>
<text transform="translate(527.58,440) scale(1.05,1)">54s</text>
<text transform="translate(577.35,440) scale(0.99,1)">53s</text>
<text transform="translate(627.12,440) scale(0.99,1)">52s</text>
<text transform="translate(29.88,485) scale(1.1,1)">A4o</text>
<text transform="translate(79.65,485) scale(1.08,1)">K4o</text>
<text transform="translate(129.42,485) scale(1.08,1)">Q4o</text>
<text transform="translate(179.19,485) scale(1.09,1)">J4o</text>
<text transform="translate(228.96,485) scale(1.05,1)">T4o</text>
<text transform="translate(278.73,485) scale(1.11,1)">94o</text>
<text transform="translate(328.5,485) scale(1.12,1)">84o</text>
<text transform="translate(378.27,485) scale(1.09,1)">74o</text>
<text transform="translate(428.04,485) scale(1.11,1)">64o</text>
<text transform="translate(477.81,485) scale(1.08,1)">54o</text>
<text transform="translate(527.58,485) scale(1.2,1)" class="p">44</text>
<text transform="translate(577.35,485) scale(1.05,1)">43s</text>
<text transform="translate(627.12,485) scale(1.05,1)">42s</text>
<text transform="translate(29.88,531) scale(1.05,1)">A3o</text>
<text transform="translate(79.65,531) scale(1.03,1)">K3o</text>
<text transform="translate(129.42,531) scale(1.03,1)">Q3o</text>
<text transform="translate(179.19,531) scale(1.04,1)">J3o</text>
<text transform="translate(228.96,531) scale(1,1)">T3o</text>
<text transform="translate(278.73,531) scale(1.06,1)">93o</text>
<text transform="translate(328.5,531) scale(1.07,1)">83o</text>
<text transform="translate(378.27,531) scale(1.03,1)">73o</text>
<text transform="translate(428.04,531) scale(1.06,1)">63o</text>
<text transform="translate(477.81,531) scale(1.03,1)">53o</text>
<text transform="translate(527.58,531) scale(1.09,1)">43o</text>
<text transform="translate(577.35,531) scale(1.05,1)" class="p">33</text>
<text transform="translate(627.12,531) scale(0.99,1)">32s</text>
<text transform="translate(29.88,577) scale(1.05,1)">A2o</text>
<text transform="translate(79.65,577) scale(1.03,1)">K2o</text>
<text transform="translate(129.42,577) scale(1.03,1)">Q2o</text>
<text transform="translate(179.19,577) scale(1.04,1)">J2o</text>
<text transform="translate(228.96,577) scale(1,1)">T2o</text>
<text transform="translate(278.73,577) scale(1.06,1)">92o</text>
<text transform="translate(328.5,577) scale(1.07,1)">82o</text>
<text transform="translate(378.27,577) scale(1.03,1)">72o</text>
<text transform="translate(428.04,577) scale(1.06,1)">62o</text>
<text transform="translate(477.81,577) scale(1.03,1)">52o</text>
<text transform="translate(527.58,577) scale(1.08,1)">42o</text>
<text transform="translate(577.35,577) scale(1.03,1)">32o</text>
<text transform="translate(627.12,577) scale(1.05,1)" class="p">22</text>
</svg></body></html>
